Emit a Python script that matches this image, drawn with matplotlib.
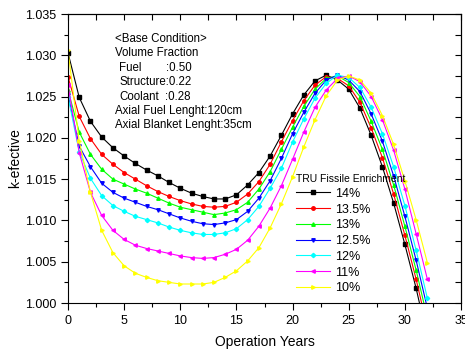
import numpy as np
import matplotlib
matplotlib.use("Agg")
from matplotlib import pyplot as plt

plt.rcParams['font.family'] = ['Liberation Sans', 'DejaVu Sans']

years = list(range(0, 33))

k_14 = [1.0303, 1.0249, 1.0220, 1.0201, 1.0188, 1.0178, 1.0169, 1.0161, 1.0154, 1.0146,
        1.0139, 1.0133, 1.0129, 1.0126, 1.0126, 1.0131, 1.0143, 1.0158, 1.0178, 1.0203,
        1.0229, 1.0252, 1.0269, 1.0276, 1.0270, 1.0259, 1.0236, 1.0203, 1.0165, 1.0121,
        1.0071, 1.0018, 0.9958]
k_135 = [1.0274, 1.0226, 1.0199, 1.0180, 1.0168, 1.0158, 1.0150, 1.0142, 1.0135, 1.0129,
         1.0124, 1.0120, 1.0117, 1.0116, 1.0117, 1.0122, 1.0132, 1.0147, 1.0168, 1.0195,
         1.0221, 1.0245, 1.0264, 1.0274, 1.0272, 1.0263, 1.0243, 1.0212, 1.0176, 1.0132,
         1.0082, 1.0029, 0.9970]
k_13 = [1.0258, 1.0207, 1.0180, 1.0162, 1.0150, 1.0144, 1.0138, 1.0133, 1.0127, 1.0121,
        1.0116, 1.0113, 1.0110, 1.0107, 1.0109, 1.0113, 1.0122, 1.0138, 1.0159, 1.0186,
        1.0213, 1.0238, 1.0259, 1.0272, 1.0275, 1.0267, 1.0250, 1.0220, 1.0186, 1.0143,
        1.0093, 1.0040, 0.9982]
k_125 = [1.0252, 1.0190, 1.0165, 1.0145, 1.0134, 1.0127, 1.0122, 1.0117, 1.0113, 1.0108,
         1.0103, 1.0099, 1.0096, 1.0095, 1.0097, 1.0101, 1.0111, 1.0127, 1.0148, 1.0175,
         1.0205, 1.0231, 1.0254, 1.0270, 1.0276, 1.0270, 1.0256, 1.0229, 1.0196, 1.0154,
         1.0105, 1.0052, 0.9994]
k_12 = [1.0250, 1.0183, 1.0151, 1.0130, 1.0118, 1.0111, 1.0105, 1.0101, 1.0097, 1.0092,
        1.0088, 1.0085, 1.0083, 1.0083, 1.0085, 1.0090, 1.0101, 1.0117, 1.0139, 1.0163,
        1.0195, 1.0223, 1.0248, 1.0266, 1.0276, 1.0273, 1.0261, 1.0237, 1.0205, 1.0165,
        1.0118, 1.0064, 1.0006]
k_11 = [1.0264, 1.0182, 1.0134, 1.0106, 1.0088, 1.0077, 1.0070, 1.0066, 1.0063, 1.0060,
        1.0057, 1.0055, 1.0054, 1.0055, 1.0059, 1.0065, 1.0076, 1.0093, 1.0115, 1.0142,
        1.0174, 1.0207, 1.0237, 1.0258, 1.0272, 1.0275, 1.0268, 1.0250, 1.0222, 1.0185,
        1.0138, 1.0084, 1.0029]
k_10 = [1.0306, 1.0196, 1.0134, 1.0088, 1.0061, 1.0045, 1.0036, 1.0031, 1.0027, 1.0025,
        1.0023, 1.0023, 1.0023, 1.0025, 1.0031, 1.0039, 1.0051, 1.0067, 1.0091, 1.0120,
        1.0153, 1.0189, 1.0222, 1.0251, 1.0270, 1.0275, 1.0270, 1.0254, 1.0227, 1.0192,
        1.0148, 1.0101, 1.0049]

labels = ["14%", "13.5%", "13%", "12.5%", "12%", "11%", "10%"]
series = [k_14, k_135, k_13, k_125, k_12, k_11, k_10]
colors = ["#000000", "#ff0000", "#00ff00", "#0000ff", "#00ffff", "#ff00ff", "#ffff00"]
markers = ["s", "o", "^", "v", "D", "<", ">"]

W, H = 465, 353
fig = plt.figure(figsize=(W / 100, H / 100), dpi=100)
ax = fig.add_axes([68 / W, 1 - 303 / H, (461 - 68) / W, (303 - 14) / H])

for vals, lab, col, mk in zip(series, labels, colors, markers):
    ax.plot(years, vals, color=col, marker=mk, markersize=2.5 if mk != "D" else 2.2,
            linewidth=0.8, label=lab)

ax.set_xlim(0, 35)
ax.set_ylim(1.000, 1.035)
ax.set_xticks(np.arange(0, 36, 5))
ax.set_xticks(np.arange(0, 36, 2.5), minor=True)
ax.set_yticks(np.arange(1.000, 1.0351, 0.005))
ax.set_yticks(np.arange(1.000, 1.0351, 0.0025), minor=True)
ax.yaxis.set_major_formatter(matplotlib.ticker.FormatStrFormatter('%.3f'))
ax.tick_params(which='major', direction='out', length=5, width=0.8, labelsize=9)
ax.tick_params(which='minor', direction='out', length=3, width=0.8)

# inward ticks on top and right
top = ax.secondary_xaxis('top')
top.set_xticks(np.arange(0, 36, 2.5))
top.tick_params(direction='in', length=4, width=0.8, labeltop=False)
right = ax.secondary_yaxis('right')
right.set_yticks(np.arange(1.000, 1.0351, 0.0025))
right.tick_params(direction='in', length=4, width=0.8, labelright=False)

ax.set_xlabel("Operation Years", fontsize=10, labelpad=6)
ax.set_ylabel("k-efective", fontsize=10, labelpad=2)

leg = ax.legend(loc='upper left', bbox_to_anchor=(296 / W, 1 - 174 / H),
                bbox_transform=fig.transFigure, frameon=False,
                title="TRU Fissile Enrichment", title_fontsize=7.5,
                fontsize=9, handlelength=2.7, handletextpad=0.4,
                labelspacing=0.3, borderpad=0, borderaxespad=0, alignment='left')

# base condition notes
notes = [("<Base Condition>", 115, 39), ("Volume Fraction", 115, 53),
         ("Fuel", 119, 68), (":0.50", 166, 68),
         ("Structure:0.22", 119, 82),
         ("Coolant", 119, 97), (":0.28", 165, 97),
         ("Axial Fuel Lenght:120cm", 115, 111),
         ("Axial Blanket Lenght:35cm", 115, 125)]
for txt, px, py in notes:
    fig.text(px / W, 1 - py / H, txt, fontsize=8.3, ha='left', va='center')

fig.savefig("out.png", dpi=100)
